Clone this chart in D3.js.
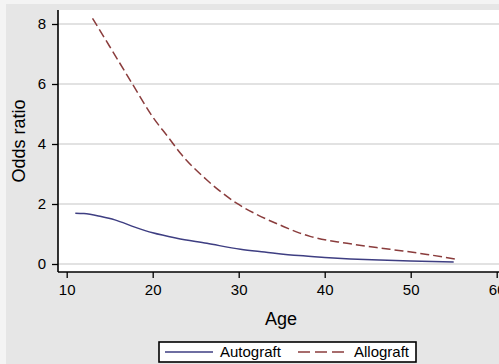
<!DOCTYPE html>
<html>
  <head>
    <script src="https://d3js.org/d3.v7.min.js"></script>
    <style>
      body { margin: 0; background: #f4f4f4; }
      text { font-family: "Liberation Sans", Arial, sans-serif; fill: #000; }
    </style>
  </head>
  <body>
    <div id="chart"></div>
    <script>
      // values
      const autoAge = [11, 12, 14, 15.6, 18, 20, 22.8, 26.3, 30.2, 33, 37, 40, 43, 46.4, 50, 55];
      const autoVal = [1.69, 1.68, 1.58, 1.47, 1.22, 1.04, 0.86, 0.69, 0.49, 0.4, 0.28, 0.22, 0.17, 0.13, 0.1, 0.07];
      const alloAge = [13, 15, 17.6, 20, 21.8, 23.2, 26.3, 29.8, 32.1, 34.8, 37.1, 38.3, 42.6, 47.6, 51.9, 55.2];
      const alloVal = [8.19, 7.25, 6.02, 4.9, 4.23, 3.7, 2.8, 2.02, 1.65, 1.3, 1.03, 0.92, 0.69, 0.49, 0.32, 0.16];
      const xTicks = [10, 20, 30, 40, 50, 60];
      const yTicks = [0, 2, 4, 6, 8];
      const seriesNames = ["Autograft", "Allograft"];

      const W = 499, H = 364;
      const plot = { left: 58, top: 10, right: 499, bottom: 272 };

      const svg = d3.select("#chart").append("svg")
        .attr("width", W).attr("height", H);

      // background
      svg.append("rect").attr("x", 6).attr("y", 4)
        .attr("width", W - 6).attr("height", H - 4).attr("fill", "#e6e6e6");
      svg.append("rect")
        .attr("x", plot.left).attr("y", plot.top)
        .attr("width", plot.right - plot.left).attr("height", plot.bottom - plot.top)
        .attr("fill", "#fff");

      const x = d3.scaleLinear().domain([10, 60]).range([66.7, 496.7]);
      const y = d3.scaleLinear().domain([0, 8]).range([264, 24]);

      // gridlines
      svg.append("g").selectAll("line").data(yTicks).join("line")
        .attr("x1", plot.left).attr("x2", plot.right)
        .attr("y1", d => y(d)).attr("y2", d => y(d))
        .attr("stroke", "#e2e2e2").attr("stroke-width", 2);

      // y axis
      const yAxis = svg.append("g")
        .attr("transform", `translate(${plot.left},0)`)
        .call(d3.axisLeft(y).tickValues(yTicks).tickSize(6).tickPadding(6));
      yAxis.select(".domain").attr("d", `M0,${plot.top}V${plot.bottom}`)
        .attr("stroke", "#000").attr("stroke-width", 1.6);
      yAxis.selectAll(".tick line").attr("stroke", "#000").attr("stroke-width", 1.3);
      yAxis.selectAll("text").style("font-size", "15px")
        .style("font-family", "'Liberation Sans', Arial, sans-serif").attr("fill", "#000");

      // x axis
      const xAxis = svg.append("g")
        .attr("transform", `translate(0,${plot.bottom})`)
        .call(d3.axisBottom(x).tickValues(xTicks).tickSize(6).tickPadding(6));
      xAxis.select(".domain").attr("d", `M${plot.left},0H${plot.right}`)
        .attr("stroke", "#000").attr("stroke-width", 1.6);
      xAxis.selectAll(".tick line").attr("stroke", "#000").attr("stroke-width", 1.3);
      xAxis.selectAll("text").style("font-size", "15px")
        .style("font-family", "'Liberation Sans', Arial, sans-serif").attr("fill", "#000");

      // curves
      const line = d3.line().x(d => x(d[0])).y(d => y(d[1])).curve(d3.curveMonotoneX);
      svg.append("path")
        .datum(autoAge.map((a, i) => [a, autoVal[i]]))
        .attr("d", line).attr("fill", "none")
        .attr("stroke", "#3e3e82").attr("stroke-width", 1.5);
      svg.append("path")
        .datum(alloAge.map((a, i) => [a, alloVal[i]]))
        .attr("d", line).attr("fill", "none")
        .attr("stroke", "#8a3c3c").attr("stroke-width", 1.5)
        .attr("stroke-dasharray", "9,4");

      // axis titles
      svg.append("text").attr("x", 281).attr("y", 325)
        .attr("text-anchor", "middle").style("font-size", "18px").text("Age");
      svg.append("text")
        .attr("transform", `translate(25,${(plot.top + plot.bottom) / 2}) rotate(-90)`)
        .attr("text-anchor", "middle").style("font-size", "18px").text("Odds ratio");

      // legend
      const lg = svg.append("g");
      lg.append("rect").attr("x", 159).attr("y", 342).attr("width", 257).attr("height", 20)
        .attr("fill", "#fff").attr("stroke", "#000").attr("stroke-width", 1.6);
      lg.append("line").attr("x1", 165).attr("x2", 213).attr("y1", 352).attr("y2", 352)
        .attr("stroke", "#3e3e82").attr("stroke-width", 1.5);
      lg.append("text").attr("x", 220).attr("y", 357).style("font-size", "15px").text(seriesNames[0]);
      lg.append("line").attr("x1", 298).attr("x2", 345).attr("y1", 352).attr("y2", 352)
        .attr("stroke", "#8a3c3c").attr("stroke-width", 1.5).attr("stroke-dasharray", "12,5");
      lg.append("text").attr("x", 354).attr("y", 357).style("font-size", "15px").text(seriesNames[1]);
    </script>
  </body>
</html>
